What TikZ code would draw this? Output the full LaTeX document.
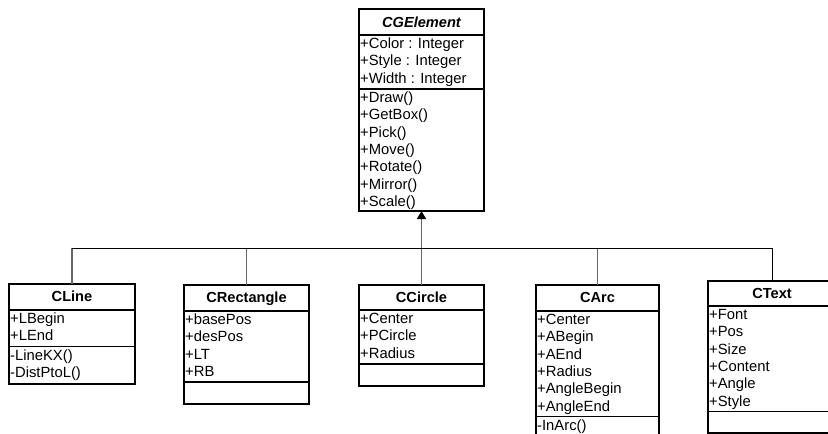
\documentclass[tikz,border=0pt]{standalone}
\usepackage{fontspec}
\setmainfont{Liberation Sans}
\usetikzlibrary{arrows.meta}
\tikzset{
  classbox/.style={draw=black, line width=1.3pt, inner sep=0pt, outer sep=0pt, anchor=north west, fill=white},
  sepline/.style={draw=black, line width=1.5pt},
  txt/.style={inner sep=0pt, anchor=base west, font=\fontsize{14.8}{17}\selectfont},
  ttl/.style={inner sep=0pt, anchor=base, font=\fontsize{14.6}{17}\selectfont\bfseries},
  conn/.style={draw=black!60, line width=1.4pt},
  bus/.style={draw=black, line width=1pt},
}
\newcommand\MyLines[3]{\foreach \t [count=\i from 0] in {#3} {\node[txt] at (#1, #2+\i*17.3) {\t};}}
\begin{document}
\begin{tikzpicture}[x=1pt,y=-1pt]
\clip (0,0) rectangle (828,434);
\fill[white] (0,0) rectangle (828,434);
% CGElement
\node[classbox, minimum width=125pt, minimum height=202pt] (cge) at (359,9) {};
\node[ttl, font=\fontsize{14.6}{17}\selectfont\bfseries\itshape] (cgeT) at (421.5,27) {CGElement};
\draw[sepline] (359,35) -- (484,35);
\draw[sepline] (359,89) -- (484,89);
\MyLines{360}{48.5}{+Color : Integer,+Style : Integer,+Width : Integer}
\MyLines{360}{102.5}{+Draw(),+GetBox(),+Pick(),+Move(),+Rotate(),+Mirror(),+Scale()}
% CLine
\node[classbox, minimum width=126pt, minimum height=100pt] (cline) at (9,284) {};
\node[ttl] (clineT) at (72,301.5) {CLine};
\draw[sepline] (9,310) -- (135,310);
\draw[sepline] (9,346.5) -- (135,346.5);
\MyLines{10}{323.5}{+LBegin,+LEnd}
\MyLines{10}{360}{-LineKX(),-DistPtoL()}
% CRectangle
\node[classbox, minimum width=125pt, minimum height=119pt] (crect) at (184,285) {};
\node[ttl] (crectT) at (246.5,302.5) {CRectangle};
\draw[sepline] (184,311) -- (309,311);
\draw[sepline] (184,382) -- (309,382);
\MyLines{185}{324.5}{+basePos,+desPos,+LT,+RB}
% CCircle
\node[classbox, minimum width=125pt, minimum height=101pt] (ccirc) at (359,285) {};
\node[ttl] (ccircT) at (421.5,302) {CCircle};
\draw[sepline] (359,310) -- (484,310);
\draw[sepline] (359,364) -- (484,364);
\MyLines{360}{323.5}{+Center,+PCircle,+Radius}
% CArc
\node[classbox, minimum width=123pt, minimum height=160pt] (carc) at (536,285) {};
\node[ttl] (carcT) at (597.5,302.5) {CArc};
\draw[sepline] (536,311) -- (659,311);
\draw[sepline] (536,416.5) -- (659,416.5);
\MyLines{537}{324.5}{+Center,+ABegin,+AEnd,+Radius,+AngleBegin,+AngleEnd}
\MyLines{537}{430}{-InArc()}
% CText
\node[classbox, minimum width=128pt, minimum height=152pt] (ctext) at (708,281) {};
\node[ttl] (ctextT) at (772,298.5) {CText};
\draw[sepline] (708,306) -- (836,306);
\draw[sepline] (708,411.5) -- (836,411.5);
\MyLines{709}{319.5}{+Font,+Pos,+Size,+Content,+Angle,+Style}
% connectors
\coordinate (busy) at (0,248);
\draw[conn] (cline.north) -- (cline.north |- busy);
\draw[conn] (crect.north) -- (crect.north |- busy);
\draw[conn] (ccirc.north) -- (ccirc.north |- busy);
\draw[conn] (carc.north) -- (carc.north |- busy);
\draw[bus] (cline.north |- busy) -- (ctext.north |- busy) -- (ctext.north);
\draw[conn, -{Triangle[width=9pt,length=8pt,black]}] (cge.south |- busy) -- (cge.south);
\end{tikzpicture}
\end{document}
